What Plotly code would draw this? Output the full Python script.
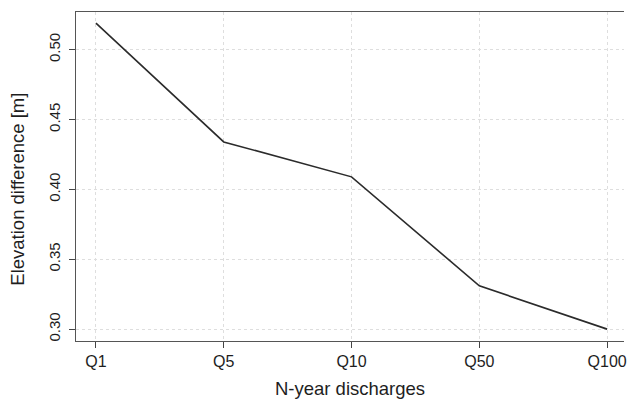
import plotly.graph_objects as go

# N-year discharge scenarios and the resulting elevation difference
discharges = ["Q1", "Q5", "Q10", "Q50", "Q100"]
elevation_diff = [0.519, 0.434, 0.409, 0.331, 0.300]
y_ticks = [0.30, 0.35, 0.40, 0.45, 0.50]
y_tick_labels = ["0.30", "0.35", "0.40", "0.45", "0.50"]
y_title = "Elevation difference [m]"
x_title = "N-year discharges"

font_family = "Liberation Sans, Arial, Helvetica, sans-serif"
text_color = "#1e1e1e"

fig = go.Figure(
    go.Scatter(
        x=list(range(len(discharges))),
        y=elevation_diff,
        mode="lines",
        line=dict(color="#2b2b2b", width=1.6),
        hoverinfo="skip",
    )
)

fig.update_layout(
    width=627,
    height=399,
    margin=dict(l=76, r=0, t=12, b=57),
    paper_bgcolor="white",
    plot_bgcolor="white",
    showlegend=False,
    font=dict(family=font_family, color=text_color),
)

fig.update_xaxes(
    range=[-0.156, 4.132],
    tickmode="array",
    tickvals=list(range(len(discharges))),
    ticktext=discharges,
    ticklabeloverflow="allow",
    ticks="outside",
    ticklen=6,
    tickwidth=1,
    tickcolor="#444444",
    tickfont=dict(size=16, color=text_color),
    showline=True,
    linecolor="#555555",
    linewidth=1.2,
    mirror=True,
    showgrid=True,
    gridcolor="#dedede",
    griddash="dot",
    gridwidth=1,
    zeroline=False,
    title=dict(text=x_title, font=dict(size=18.5, color=text_color), standoff=16),
)

fig.update_yaxes(
    range=[0.2915, 0.527],
    tickmode="array",
    tickvals=y_ticks,
    ticktext=y_tick_labels,
    tickangle=-90,
    ticklabelstandoff=3,
    ticks="outside",
    ticklen=6,
    tickwidth=1,
    tickcolor="#444444",
    tickfont=dict(size=15, color=text_color),
    showline=True,
    linecolor="#555555",
    linewidth=1.2,
    mirror=False,
    showgrid=True,
    gridcolor="#dedede",
    griddash="dot",
    gridwidth=1,
    zeroline=False,
)

# Vertical axis title, set slightly below the middle of the plot area
fig.add_annotation(
    text=y_title,
    xref="paper",
    yref="paper",
    x=0,
    y=0.46,
    xshift=-58,
    xanchor="center",
    yanchor="middle",
    textangle=-90,
    showarrow=False,
    font=dict(size=18.5, color=text_color),
)

fig.write_html("out.html")
